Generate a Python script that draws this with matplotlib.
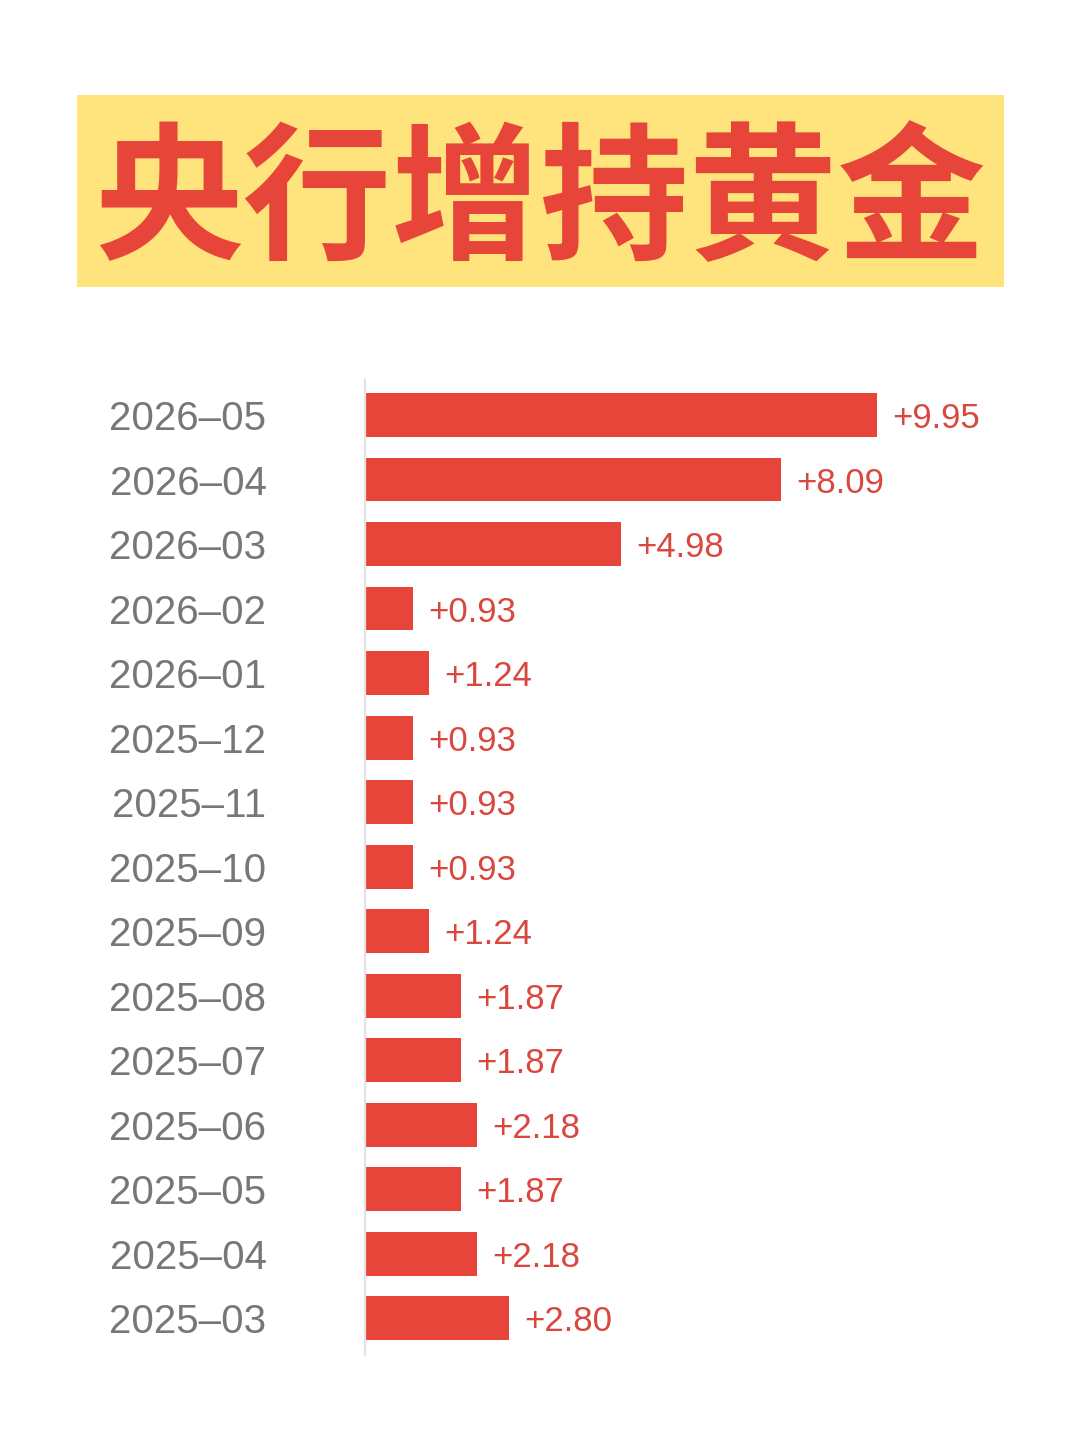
import matplotlib
matplotlib.use("Agg")
import matplotlib.pyplot as plt
from matplotlib.patches import Rectangle

title = "央行增持黄金"
months = ["2026–05", "2026–04", "2026–03", "2026–02", "2026–01",
          "2025–12", "2025–11", "2025–10", "2025–09", "2025–08",
          "2025–07", "2025–06", "2025–05", "2025–04", "2025–03"]
values = [9.95, 8.09, 4.98, 0.93, 1.24,
          0.93, 0.93, 0.93, 1.24, 1.87,
          1.87, 2.18, 1.87, 2.18, 2.80]

bar_color = "#E8453A"
label_color = "#D9483E"

fig = plt.figure(figsize=(10.8, 14.4), dpi=100)
fig.patch.set_facecolor("white")

# yellow title band
fig.patches.append(Rectangle((0.0713, 0.8007), 0.8583, 0.1333,
                             transform=fig.transFigure, facecolor="#FFE37C",
                             edgecolor="none", zorder=0))
fig.text(0.5, 0.858, title, ha="center", va="center", fontsize=107,
         fontweight="bold", color=bar_color,
         family=["Noto Sans CJK SC", "DejaVu Sans"])

ax = fig.add_axes([0.338, 0.059, 0.6194, 0.677])
pos = list(range(len(months)))
bars = ax.barh(pos, values, height=0.68, color=bar_color, zorder=2)

for b, v in zip(bars, values):
    ax.annotate(f"+{v:.2f}", (b.get_width(), b.get_y() + b.get_height() / 2),
                xytext=(11, 0), textcoords="offset points",
                ha="left", va="center_baseline", fontsize=25, color=label_color,
                family="Liberation Sans")

ax.set_xlim(0, 13)
ax.set_ylim(14.57, -0.54)
ax.set_yticks(pos)
ax.set_yticklabels(months, fontsize=29, color="#777777", family="Liberation Sans")
ax.tick_params(axis="y", length=0, pad=71)
ax.set_xticks([])
for s in ["top", "right", "bottom"]:
    ax.spines[s].set_visible(False)
ax.spines["left"].set_color("#E3E3E3")
ax.spines["left"].set_linewidth(1.6)
ax.set_facecolor("none")

fig.savefig("out.png", dpi=100, facecolor="white")
